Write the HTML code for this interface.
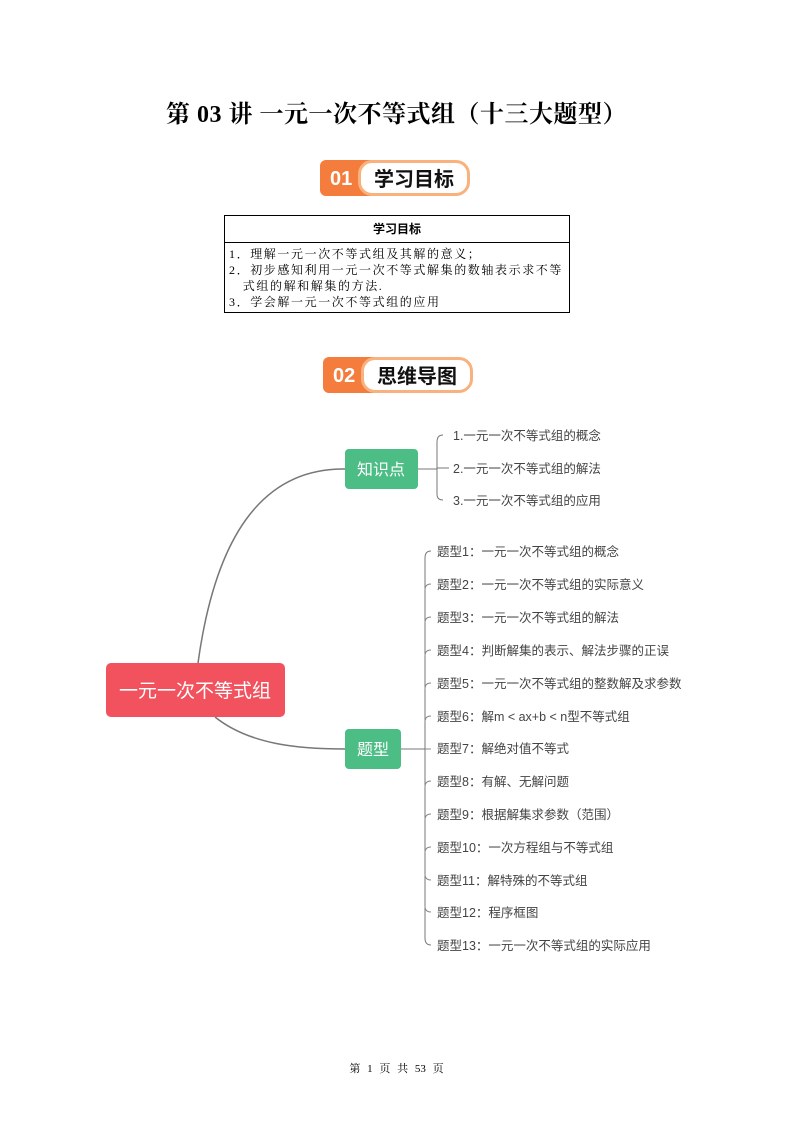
<!DOCTYPE html>
<html><head><meta charset="utf-8"><style>
body{margin:0;background:#fff;}
.pg{position:relative;width:793px;height:1122px;overflow:hidden;font-family:"Liberation Serif","Noto Serif CJK SC",serif;}
.t{position:absolute;left:0;width:793px;text-align:center;top:94px;font-size:24px;letter-spacing:0.5px;font-weight:bold;color:#000;}
.badge{position:absolute;height:36px;}
.badge .o{position:absolute;left:0;top:0;width:60px;height:36px;background:#f47c3c;border-radius:6px 0 0 6px;}
.badge .n{position:absolute;left:10px;top:8px;color:#fff;font:bold 20px "Liberation Sans",sans-serif;}
.badge .w{position:absolute;left:38px;top:0;width:106px;height:30px;background:#fff;border:3px solid #f9b27d;border-radius:14px;font:bold 20px "Noto Sans CJK SC",sans-serif;text-align:center;line-height:30px;color:#111;}
table{position:absolute;left:224px;top:215px;width:346px;border-collapse:collapse;font-size:12px;}
td{border:1px solid #000;padding:2px 4px;line-height:16px;}
.mm{position:absolute;left:0;top:0;}
.f{position:absolute;top:1060px;width:793px;text-align:center;font-size:11px;word-spacing:4px;}
</style></head><body><div class="pg">
<div class="t">第 03 讲 一元一次不等式组（十三大题型）</div>
<div class="badge" style="left:320px;top:160px;width:151px"><div class="o"></div><div class="n">01</div><div class="w">学习目标</div></div>
<table><tr><td style="text-align:center;font-weight:bold;height:22px;font-family:'Noto Sans CJK SC',sans-serif">学习目标</td></tr>
<tr><td style="padding:3px 2px 2px 4px;letter-spacing:1.6px">1．理解一元一次不等式组及其解的意义；<br>2．初步感知利用一元一次不等式解集的数轴表示求不等<br>&nbsp;&nbsp;&nbsp;式组的解和解集的方法.<br>3．学会解一元一次不等式组的应用</td></tr></table>
<div class="badge" style="left:323px;top:357px;width:151px"><div class="o"></div><div class="n">02</div><div class="w">思维导图</div></div>
<svg class="mm" width="793" height="1122" font-family="'Liberation Sans','Noto Sans CJK SC',sans-serif">
<g fill="none" stroke="#777" stroke-width="1.5">
<path d="M198 663 C215 540 260 468 345 469"/>
<path d="M215 717 C250 745 300 749 345 749"/>
<path d="M418 469 H437 M443 435 Q437 435 437 442 V494 Q437 500 443 500 M437 468 H449" stroke-width="1"/>
<path d="M401 749 H425 M431 551 Q425 551 425 558 V938 Q425 945 431 945" stroke-width="1"/>
</g>
<g fill="none" stroke="#888" stroke-width="1">
<path d="M425 590 Q425 584 431 584 M425 623 Q425 617 431 617 M425 656 Q425 650 431 650 M425 689 Q425 683 431 683 M425 722 Q425 716 431 716 M425 749 H431 M425 787 Q425 781 431 781 M425 820 Q425 814 431 814 M425 853 Q425 847 431 847 M425 874 Q425 880 431 880 M425 906 Q425 912 431 912"/>
</g>
<rect x="106" y="663" width="179" height="54" rx="5" fill="#f2525d"/>
<text x="195" y="697" text-anchor="middle" fill="#fff" font-size="19">一元一次不等式组</text>
<rect x="345" y="449" width="73" height="40" rx="4" fill="#4cbd85"/>
<text x="381" y="475" text-anchor="middle" fill="#fff" font-size="16">知识点</text>
<rect x="345" y="729" width="56" height="40" rx="4" fill="#4cbd85"/>
<text x="373" y="755" text-anchor="middle" fill="#fff" font-size="16">题型</text>
<g font-size="12.5" fill="#444">
<text x="453" y="440">1.一元一次不等式组的概念</text>
<text x="453" y="473">2.一元一次不等式组的解法</text>
<text x="453" y="505">3.一元一次不等式组的应用</text>
<text x="437" y="556">题型1：一元一次不等式组的概念</text>
<text x="437" y="589">题型2：一元一次不等式组的实际意义</text>
<text x="437" y="622">题型3：一元一次不等式组的解法</text>
<text x="437" y="655">题型4：判断解集的表示、解法步骤的正误</text>
<text x="437" y="688">题型5：一元一次不等式组的整数解及求参数</text>
<text x="437" y="721">题型6：解m &lt; ax+b &lt; n型不等式组</text>
<text x="437" y="753">题型7：解绝对值不等式</text>
<text x="437" y="786">题型8：有解、无解问题</text>
<text x="437" y="819">题型9：根据解集求参数（范围）</text>
<text x="437" y="852">题型10：一次方程组与不等式组</text>
<text x="437" y="885">题型11：解特殊的不等式组</text>
<text x="437" y="917">题型12：程序框图</text>
<text x="437" y="950">题型13：一元一次不等式组的实际应用</text>
</g>
</svg>
<div class="f">第 1 页 共 53 页</div>
</div></body></html>
